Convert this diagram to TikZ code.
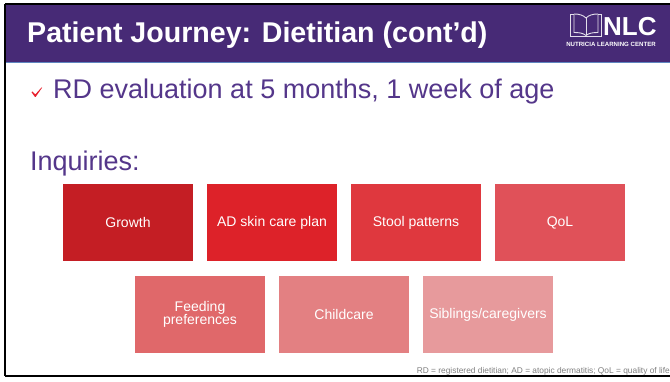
\documentclass[tikz,border=0pt]{standalone}
\usepackage{fontspec}
\setmainfont{Liberation Sans}
\definecolor{nlcpurple}{HTML}{472A76}
\definecolor{nlctext}{HTML}{54368A}
\definecolor{nlcrule}{HTML}{5F86C0}
\definecolor{nlctick}{HTML}{E8212E}
\tikzset{
  inquiry/.style={minimum width=130pt,minimum height=77pt,inner sep=0pt,text=white,align=center,font=\fontsize{14}{14}\selectfont},
  slidetext/.style={anchor=base west,inner sep=0pt,text=nlctext,font=\fontsize{27}{30}\selectfont},
}
\NewDocumentCommand{\inquirycell}{mmmmm}{%
\definecolor{cell#1}{HTML}{#4}%
\node[inquiry,fill=cell#1] (#1) at (#2,#3) {#5};%
}

\begin{document}
\begin{tikzpicture}[x=1pt,y=-1pt]
        \useasboundingbox (0,0) rectangle (670,382);
        \fill[white] (0,0) rectangle (670,382);

        % Header
        \fill[nlcpurple] (5,5) rectangle (670,62);
        \draw[nlcrule,line width=1pt] (5,62.5) -- (670,62.5);
        \node[anchor=base west,inner sep=0pt,text=white,font=\fontsize{28.6}{30}\selectfont\bfseries] (title) at (27,43) {Patient Journey: Dietitian (cont’d)};

        % Logo
        \begin{scope}[white!85!nlcpurple,line width=0.9pt]
            \draw (574,14) -- (570.5,14) -- (570.5,36) -- (601.5,36) -- (601.5,14) -- (598,14);
            \draw (574,14) -- (574,32.5) .. controls (579,32.5) and (583,33) .. (586,35.5) .. controls (589,33) and (593,32.5) .. (598,32.5) -- (598,14);
            \draw (574,14) .. controls (579,14) and (583,15) .. (586,18) .. controls (589,15) and (593,14) .. (598,14);
            \draw (586,18) -- (586,35.5);
        \end{scope}
        \node[anchor=base west,inner sep=0pt,text=white,font=\fontsize{26}{26}\selectfont\bfseries] (nlc) at (603,36) {NLC};
        \node[anchor=center,inner sep=0pt,text=white,font=\fontsize{6.1}{6}\selectfont\bfseries] (center) at (611,44) {NUTRICIA LEARNING CENTER};

        % Bullet
        \fill[nlctick] (31.5,92.2) -- (32.4,91.4) -- (35.3,94.4) -- (41.7,87.3) -- (42.1,87.7) -- (35.6,97) -- (35,97) -- cycle;
        \node[slidetext] (eval) at (53,99) {RD evaluation at 5 months, 1 week of age};
        \node[slidetext] (inq) at (30,170.5) {Inquiries:};

        % Row 1
        \inquirycell{growth}{128}{222.5}{C41E24}{Growth}
        \inquirycell{skin}{272}{222.5}{DD2229}{AD skin care plan}
        \inquirycell{stool}{416}{222.5}{DF383E}{Stool patterns}
        \inquirycell{qol}{560}{222.5}{E05159}{QoL}

        % Row 2
        \inquirycell{feeding}{200}{314.5}{E0686A}{Feeding\\[-1.5pt]preferences}
        \inquirycell{childcare}{344}{314.5}{E38082}{Childcare}
        \inquirycell{siblings}{488}{314.5}{E79A9C}{Siblings/caregivers}

        % Footnote
        \node[anchor=east,inner sep=0pt,text=black!50,font=\fontsize{8.36}{9}\selectfont] (note) at (670,371.5) {RD = registered dietitian; AD = atopic dermatitis; QoL = quality of life};

        % Frame
        \draw[black,line width=2pt] (5,4) -- (670,4);
        \draw[black,line width=2pt] (5,4) -- (5,376);
        \draw[black,line width=2pt] (5,376) -- (670,376);
    \end{tikzpicture}
\end{document}
